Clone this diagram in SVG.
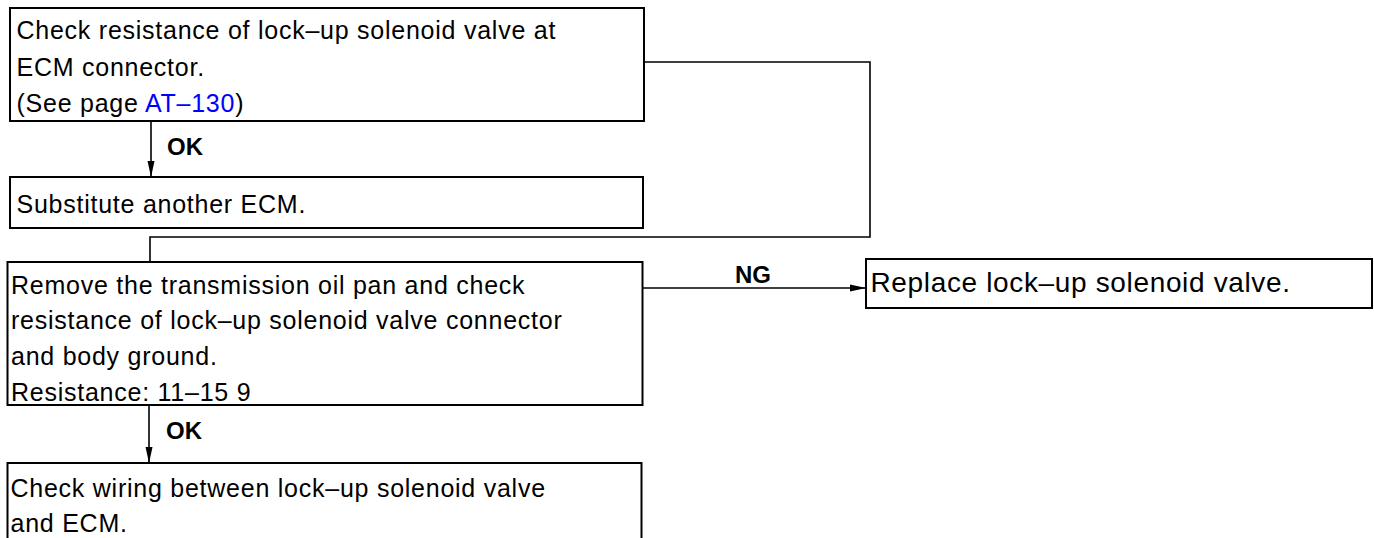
<svg xmlns="http://www.w3.org/2000/svg" width="1374" height="538" viewBox="0 0 1374 538">
<style>
.box{fill:#fff;stroke:#000;stroke-width:2}
.t{font-family:"Liberation Sans",Arial,sans-serif;font-size:25px;letter-spacing:0.75px;fill:#000}
.big{font-size:28px;letter-spacing:0.65px}
.lbl{font-family:"Liberation Sans",Arial,sans-serif;font-size:24px;font-weight:bold;fill:#000}
.link{fill:#0000ff}
.c{fill:none;stroke:#000;stroke-width:1.6}
</style>
<defs>
<marker id="ah" viewBox="0 0 16 8" refX="16" refY="4" markerWidth="16" markerHeight="8" markerUnits="userSpaceOnUse" orient="auto">
<path d="M0,0.5 L16,4 L0,7.5 Z" fill="#000"/>
</marker>
</defs>
<rect width="1374" height="538" fill="#fff"/>
<g id="connectors">
<line class="c" x1="151" y1="121" x2="151" y2="177" marker-end="url(#ah)"/>
<polyline class="c" points="644,62 870,62 870,237 150,237 150,262"/>
<line class="c" x1="643" y1="288" x2="866" y2="288" marker-end="url(#ah)"/>
<line class="c" x1="149" y1="405" x2="149" y2="463" marker-end="url(#ah)"/>
<text class="lbl" x="167" y="155">OK</text>
<text class="lbl" x="735" y="283">NG</text>
<text class="lbl" x="166" y="439">OK</text>
</g>
<g id="node1">
<rect class="box" x="10" y="8" width="634" height="113"/>
<text class="t" x="16.5" y="39">Check resistance of lock–up solenoid valve at</text>
<text class="t" x="16.5" y="76">ECM connector.</text>
<text class="t" x="16.5" y="112">(See page <tspan class="link">AT–130</tspan>)</text>
</g>
<g id="node2">
<rect class="box" x="10" y="177" width="633" height="51"/>
<text class="t" x="16.5" y="213">Substitute another ECM.</text>
</g>
<g id="node3">
<rect class="box" x="7.5" y="262" width="635" height="143"/>
<text class="t" x="11" y="294">Remove the transmission oil pan and check</text>
<text class="t" x="11" y="329">resistance of lock–up solenoid valve connector</text>
<text class="t" x="11" y="365">and body ground.</text>
<text class="t" x="11" y="401">Resistance: 11–15 9</text>
</g>
<g id="node4">
<rect class="box" x="7.5" y="463" width="634" height="100"/>
<text class="t" x="10.5" y="497">Check wiring between lock–up solenoid valve</text>
<text class="t" x="10.5" y="532">and ECM.</text>
</g>
<g id="node5">
<rect class="box" x="866" y="259" width="506" height="49"/>
<text class="t big" x="870.5" y="292">Replace lock–up solenoid valve.</text>
</g>
</svg>
